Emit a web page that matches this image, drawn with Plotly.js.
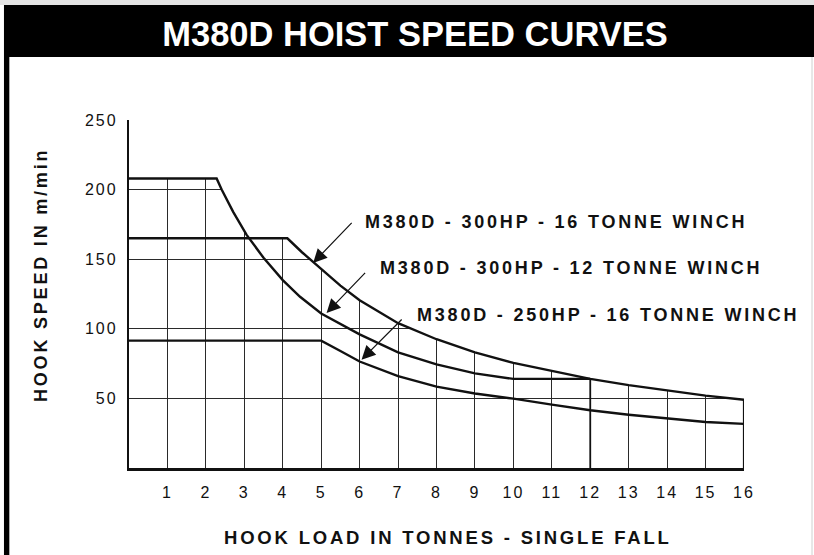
<!DOCTYPE html>
<html><head><meta charset="utf-8">
<script src="https://cdn.plot.ly/plotly-3.0.1.min.js"></script>
<style>
html,body{margin:0;padding:0;background:#fff;}
#chart{width:814px;height:555px;}
.xtick text,.ytick text{letter-spacing:2px;}
.annotation-text{letter-spacing:2.8px;}
</style></head><body><div id="chart"></div>
<script>
const chartTitle = 'M380D HOIST SPEED CURVES';
const xTitle = 'HOOK LOAD IN TONNES - SINGLE FALL';
const yTitle = 'HOOK SPEED IN m/min';
const xTickVals = [1,2,3,4,5,6,7,8,9,10,11,12,13,14,15,16];
const yTickVals = [50,100,150,200,250];
const seriesNames = ['M380D - 300HP - 16 TONNE WINCH','M380D - 300HP - 12 TONNE WINCH','M380D - 250HP - 16 TONNE WINCH'];

// 300HP - 16 tonne winch
const load300hp16t  = [0, 4.12, 4.5, 5, 5.5, 6, 7, 8, 9, 10, 11, 12, 13, 14, 15, 16];
const speed300hp16t = [165, 165, 155, 143, 131, 120.5, 104, 92.5, 83, 75.5, 69.5, 64, 59.5, 55.5, 52, 49];
// 300HP - 12 tonne winch
const load300hp12t  = [0, 2.28, 2.41, 2.71, 3.06, 3.5, 4.0, 4.45, 5, 6, 7, 8, 9, 10, 12];
const speed300hp12t = [208, 208, 200, 184, 167.5, 151, 135, 123, 111, 96, 83, 74.5, 68, 64, 64];
// 250HP - 16 tonne winch
const load250hp16t  = [0, 5, 5.5, 6, 7, 8, 9, 10, 11, 12, 13, 14, 15, 16];
const speed250hp16t = [91.5, 91.5, 84, 76.5, 66, 58.5, 53.5, 49.8, 45.5, 41.5, 38.3, 35.5, 33, 31.7];

const series = [[load300hp16t, speed300hp16t],[load300hp12t, speed300hp12t],[load250hp16t, speed250hp16t]];

function interp(xs, ys, x){
  if (x < xs[0] || x > xs[xs.length-1]) return -Infinity;
  for (let i = 1; i < xs.length; i++) {
    if (x <= xs[i]) { const t = (x - xs[i-1]) / (xs[i] - xs[i-1]); return ys[i-1] + t * (ys[i] - ys[i-1]); }
  }
  return ys[ys.length-1];
}
// upper envelope of all curves (used to hide the grid above the curves)
let ux = Array.from(new Set([].concat(...series.map(s => s[0])))).sort((a,b)=>a-b);
function env(x){ return Math.max(...series.map(s => interp(s[0], s[1], x))); }
let envX = [];
for (let i = 0; i < ux.length; i++) {
  if (i > 0) {
    const a = ux[i-1], b = ux[i];
    for (let k = 1; k < 8; k++) envX.push(a + (b - a) * k / 8);
  }
  envX.push(ux[i]);
}
const envY = envX.map(env);

const ink = '#111111';
const traces = [
  {x: envX, y: envX.map(()=>300), mode:'lines', line:{width:0, color:'#fff'}, hoverinfo:'skip', showlegend:false},
  {x: envX, y: envY, mode:'lines', line:{width:0, color:'#fff'}, fill:'tonexty', fillcolor:'#ffffff', hoverinfo:'skip', showlegend:false},
];
series.forEach((s, i) => traces.push({x: s[0], y: s[1], name: seriesNames[i], mode:'lines', line:{color: ink, width:2.4}, cliponaxis:false, showlegend:false}));
// closing verticals at the end of the 12 t and 16 t curves
traces.push({x:[load300hp12t[load300hp12t.length-1], load300hp12t[load300hp12t.length-1]], y:[0, speed300hp12t[speed300hp12t.length-1]], mode:'lines', line:{color:ink, width:1.8}, cliponaxis:false, showlegend:false, hoverinfo:'skip'});
traces.push({x:[load300hp16t[load300hp16t.length-1], load300hp16t[load300hp16t.length-1]], y:[0, speed300hp16t[speed300hp16t.length-1]], mode:'lines', line:{color:ink, width:2.2}, cliponaxis:false, showlegend:false, hoverinfo:'skip'});

const txtFont = {family:'Liberation Sans, Arial, sans-serif', color: ink};
const arrowStyle = {xref:'x', yref:'y', showarrow:true, arrowhead:2, arrowsize:2.3, arrowwidth:1.2, arrowcolor:ink, standoff:0, text:''};
const annotations = [
  {text:'<b>'+seriesNames[0]+'</b>', x:6.09, y:176.4, xref:'x', yref:'y', xanchor:'left', yanchor:'middle', showarrow:false, font:Object.assign({size:18}, txtFont)},
  {text:'<b>'+seriesNames[1]+'</b>', x:6.48, y:143.7, xref:'x', yref:'y', xanchor:'left', yanchor:'middle', showarrow:false, font:Object.assign({size:18}, txtFont)},
  {text:'<b>'+seriesNames[2]+'</b>', x:7.44, y:110.1, xref:'x', yref:'y', xanchor:'left', yanchor:'middle', showarrow:false, font:Object.assign({size:18}, txtFont)},
  Object.assign({x:4.79, y:147.3, ax:40, ay:-41.6}, arrowStyle),
  Object.assign({x:5.14, y:111.4, ax:40, ay:-41.6}, arrowStyle),
  Object.assign({x:6.05, y:77.8, ax:41.6, ay:-41.7}, arrowStyle),
  {text:'<b>'+xTitle+'</b>', x:0.5187, y:-0.1983, xref:'paper', yref:'paper', xanchor:'center', yanchor:'middle', showarrow:false, font:Object.assign({size:18.5}, txtFont)},
  {text:'<b>'+yTitle+'</b>', x:-0.1431, y:0.5546, xref:'paper', yref:'paper', xanchor:'center', yanchor:'middle', textangle:-90, showarrow:false, font:Object.assign({size:18}, txtFont)},
];

const shapes = [
  {type:'rect', xref:'paper', yref:'paper', x0:-0.2098, x1:1.12, y0:1.3305, y1:1.35, fillcolor:'#e4e4e4', line:{width:0}, layer:'below'},
  {type:'rect', xref:'paper', yref:'paper', x0:-0.2033, x1:1.12, y0:1.1810, y1:1.3305, fillcolor:'#000', line:{width:0}, layer:'below'},
  {type:'rect', xref:'paper', yref:'paper', x0:-0.2033, x1:-0.1946, y0:-0.26, y1:1.1810, fillcolor:'#000', line:{width:0}, layer:'below'},
  {type:'line', xref:'paper', yref:'paper', x0:1.1106, x1:1.1106, y0:-0.26, y1:1.1810, line:{color:'#d0d0d0', width:1}, layer:'below'},
];

const layout = {
  width:814, height:555,
  margin:{l:129, r:70, t:120, b:87},
  paper_bgcolor:'#fff', plot_bgcolor:'#fff',
  showlegend:false,
  title:{text:'<b>'+chartTitle+'</b>', x:0.5098, xanchor:'center', y:1-34/555, yanchor:'middle', font:{family:'Liberation Sans, Arial, sans-serif', size:34.5, color:'#fff'}},
  xaxis:{range:[0,16], tickvals:xTickVals, ticktext:xTickVals.map(String), ticks:'', showgrid:true, gridcolor:'#2a2a2a', gridwidth:1, zeroline:false, showline:true, linecolor:ink, linewidth:2.5, tickfont:{family:'Liberation Sans, Arial, sans-serif', size:16, color:ink}, ticklabelstandoff:8, fixedrange:true},
  yaxis:{range:[0,250], tickvals:yTickVals, ticktext:yTickVals.map(String), ticks:'', showgrid:true, gridcolor:'#2a2a2a', gridwidth:1, zeroline:false, showline:true, linecolor:ink, linewidth:2.2, tickfont:{family:'Liberation Sans, Arial, sans-serif', size:16, color:ink}, ticklabelstandoff:6, fixedrange:true},
  annotations: annotations,
  shapes: shapes
};
Plotly.newPlot('chart', traces, layout, {displayModeBar:false, staticPlot:true});
</script></body></html>
